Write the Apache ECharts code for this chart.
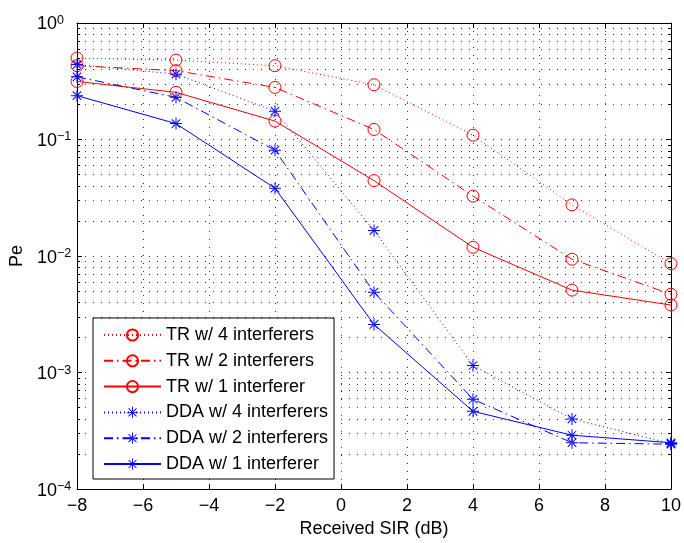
<!DOCTYPE html>
<html>
<head>
<meta charset="utf-8">
<script src="https://cdn.jsdelivr.net/npm/echarts@6/dist/echarts.min.js"></script>
<style>html,body{margin:0;padding:0;background:#fff;}#c{width:684px;height:543px;}</style>
</head>
<body>
<div id="c"></div>
<script>
const xValues = [-8, -5, -2, 1, 4, 7, 10];
const tr4  = [0.50, 0.48, 0.43, 0.295, 0.109, 0.0275, 0.0086];
const tr2  = [0.43, 0.39, 0.28, 0.122, 0.0327, 0.0094, 0.0047];
const tr1  = [0.315, 0.254, 0.144, 0.0444, 0.0119, 0.0051, 0.0038];
const dda4 = [0.44, 0.364, 0.175, 0.0166, 0.00115, 0.0004, 0.000246];
const dda2 = [0.345, 0.23, 0.081, 0.0049, 0.00059, 0.00025, 0.000243];
const dda1 = [0.238, 0.137, 0.0382, 0.00259, 0.000465, 0.00029, 0.00025];
const seriesNames = ['TR w/ 4 interferers','TR w/ 2 interferers','TR w/ 1 interferer','DDA w/ 4 interferers','DDA w/ 2 interferers','DDA w/ 1 interferer'];

const FONT = 'Liberation Sans, Arial, Helvetica, sans-serif';
const RED = '#ff0000', BLUE = '#0000ff';
const DOT = [1, 3], DASHDOT = [9, 4, 1.5, 4];
const STAR = 'path://M-0.5,-6L0.5,-6L0.5,6L-0.5,6Z M-6,-0.5L6,-0.5L6,0.5L-6,0.5Z M-3.89,-4.59L4.59,3.89L3.89,4.59L-4.59,-3.89Z M-3.89,4.59L4.59,-3.89L3.89,-4.59L-4.59,3.89Z';

function mk(name, vals, color, type, isStar) {
  return {
    name: name, type: 'line',
    data: xValues.map((x, i) => [x, vals[i]]),
    symbol: isStar ? STAR : 'circle',
    symbolSize: 12,
    showSymbol: true,
    lineStyle: { color: color, width: 1, type: type },
    itemStyle: isStar ? { color: color } : { color: 'rgba(0,0,0,0)', borderColor: color, borderWidth: 1 },
    emphasis: { disabled: true },
    z: 3
  };
}

const GRIDCOL = '#333';
const gridLine = { show: true, lineStyle: { color: GRIDCOL, type: [1, 7], width: 1 } };
const supFmt = v => {
  const e = Math.round(Math.log10(v));
  return '{b|10}{s|' + (e < 0 ? '\u2212' + (-e) : String(e)) + '}';
};

const chart = echarts.init(document.getElementById('c'), null, { renderer: 'canvas' });
chart.setOption({
  animation: false,
  backgroundColor: '#fff',
  textStyle: { fontFamily: FONT },
  grid: { left: 77, right: 11, top: 23, bottom: 50 },
  xAxis: [{
    type: 'value', min: -8, max: 10, interval: 2, position: 'bottom',
    axisLine: { show: true, onZero: false, lineStyle: { color: '#000', width: 1 } },
    axisTick: { show: true, inside: true, length: 5, lineStyle: { color: '#000' } },
    axisLabel: { color: '#000', fontSize: 18, margin: 8, fontFamily: FONT, formatter: v => String(v).replace('-', '\u2212') },
    splitLine: gridLine,
    name: 'Received SIR (dB)', nameLocation: 'middle', nameGap: 25,
    nameTextStyle: { color: '#000', fontSize: 18, fontFamily: FONT }
  }, {
    type: 'value', min: -8, max: 10, interval: 2, position: 'top',
    axisLine: { show: true, onZero: false, lineStyle: { color: '#000', width: 1 } },
    axisTick: { show: true, inside: true, length: 5, lineStyle: { color: '#000' } },
    axisLabel: { show: false }, splitLine: { show: false }
  }],
  yAxis: [{
    type: 'log', logBase: 10, min: 1e-4, max: 1, position: 'left',
    axisLine: { show: true, onZero: false, lineStyle: { color: '#000', width: 1 } },
    axisTick: { show: true, inside: true, length: 5, lineStyle: { color: '#000' } },
    minorTick: { show: true, splitNumber: 9, length: 3, lineStyle: { color: '#000' } },
    minorSplitLine: { show: true, lineStyle: { color: GRIDCOL, type: [1, 7], width: 1 } },
    splitLine: gridLine,
    axisLabel: {
      color: '#000', margin: 40, align: 'left', fontFamily: FONT, formatter: supFmt,
      rich: {
        b: { fontSize: 18, lineHeight: 18, fontFamily: FONT, color: '#000', padding: [3, 0, 0, 0] },
        s: { fontSize: 12.5, lineHeight: 10, fontFamily: FONT, color: '#000', verticalAlign: 'top' }
      }
    },
    name: 'Pe', nameLocation: 'middle', nameGap: 48, nameRotate: 90,
    nameTextStyle: { color: '#000', fontSize: 18, fontFamily: FONT }
  }, {
    type: 'log', logBase: 10, min: 1e-4, max: 1, position: 'right',
    axisLine: { show: true, onZero: false, lineStyle: { color: '#000', width: 1 } },
    axisTick: { show: true, inside: true, length: 5, lineStyle: { color: '#000' } },
    minorTick: { show: true, splitNumber: 9, length: 3, lineStyle: { color: '#000' } },
    axisLabel: { show: false }, splitLine: { show: false }
  }],
  legend: {
    orient: 'vertical', left: 93, top: 318,
    itemWidth: 57, itemHeight: 14, itemGap: 7.8,
    padding: [8, 6, 6, 10],
    borderColor: '#000', borderWidth: 1, backgroundColor: '#fff',
    textStyle: { color: '#000', fontSize: 18, lineHeight: 18, fontFamily: FONT },
    data: seriesNames
  },
  series: [
    mk(seriesNames[0], tr4, RED, DOT, false),
    mk(seriesNames[1], tr2, RED, DASHDOT, false),
    mk(seriesNames[2], tr1, RED, 'solid', false),
    mk(seriesNames[3], dda4, BLUE, DOT, true),
    mk(seriesNames[4], dda2, BLUE, DASHDOT, true),
    mk(seriesNames[5], dda1, BLUE, 'solid', true)
  ]
});
</script>
</body>
</html>
